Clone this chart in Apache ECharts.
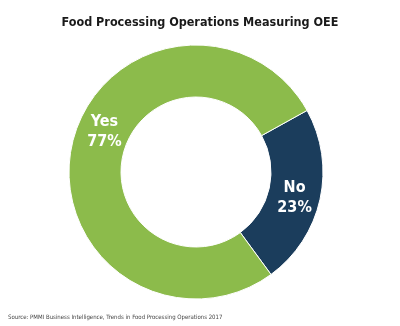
<!DOCTYPE html>
<html><head><meta charset="utf-8">
<script src="https://cdn.jsdelivr.net/npm/echarts@6/dist/echarts.min.js"></script>
<style>html,body{margin:0;padding:0;background:#fff}#c{width:400px;height:326px}</style>
</head><body><div id="c"></div>
<script>
const titleText = 'Food Processing Operations Measuring OEE';
const sourceText = 'Source: PMMI Business Intelligence, Trends in Food Processing Operations 2017';
const categories = ['No', 'Yes'];
const values = [23, 77];
const colors = ['#1b3d5c', '#8cbb4b'];
const FONT = "'DejaVu Sans Condensed', sans-serif";

const chart = echarts.init(document.getElementById('c'));
chart.setOption({
  backgroundColor: '#fff',
  animation: false,
  title: [{
    text: titleText, left: 'center', top: 16, padding: 0,
    textStyle: { fontFamily: FONT, fontWeight: 'bold', fontSize: 12.5, color: '#1a1a1a' }
  }, {
    text: sourceText, left: 8, top: 314, padding: 0,
    textStyle: { fontFamily: FONT, fontWeight: 'normal', fontSize: 6, color: '#444' }
  }],
  series: [{
    type: 'pie',
    center: [196, 172],
    radius: [75, 127],
    startAngle: 29,
    clockwise: true,
    itemStyle: { borderColor: '#fff', borderWidth: 1 },
    label: {
      show: true, position: 'inside',
      formatter: p => p.name + '\n' + p.value + '%',
      fontFamily: FONT, fontWeight: 'bold', fontSize: 16, lineHeight: 20, color: '#fff'
    },
    labelLine: { show: false },
    emphasis: { disabled: true },
    data: categories.map((n, i) => ({
      name: n, value: values[i], itemStyle: { color: colors[i] },
      label: i === 1 ? { offset: [10, -18] } : { offset: [-3, 4] }
    }))
  }]
});
</script></body></html>
